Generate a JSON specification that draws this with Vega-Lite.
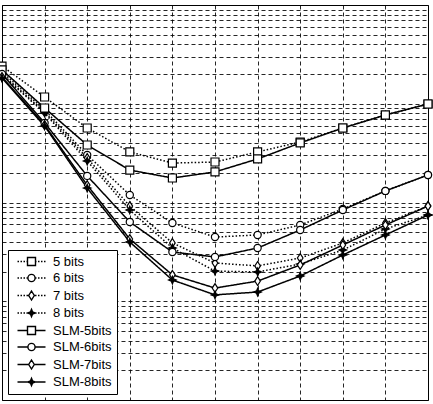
{
  "$schema": "https://vega.github.io/schema/vega-lite/v6.json",
  "width": 426,
  "height": 395,
  "autosize": {"type": "none"},
  "padding": {"left": 2, "top": 5, "right": 5, "bottom": 4},
  "background": "white",
  "config": {"view": {"stroke": "black", "strokeWidth": 1}, "font": "Liberation Sans"},
  "resolve": {"scale": {"shape": "independent"}},
  "data": {"values": [
    {"s": "5 bits", "x": 0, "v": 0.241}, {"s": "5 bits", "x": 1, "v": 0.117}, {"s": "5 bits", "x": 2, "v": 0.0568}, {"s": "5 bits", "x": 3, "v": 0.0325}, {"s": "5 bits", "x": 4, "v": 0.0251}, {"s": "5 bits", "x": 5, "v": 0.0257}, {"s": "5 bits", "x": 6, "v": 0.0325}, {"s": "5 bits", "x": 7, "v": 0.041}, {"s": "5 bits", "x": 8, "v": 0.0568}, {"s": "5 bits", "x": 9, "v": 0.0769}, {"s": "5 bits", "x": 10, "v": 0.0994},
    {"s": "6 bits", "x": 0, "v": 0.21}, {"s": "6 bits", "x": 1, "v": 0.0865}, {"s": "6 bits", "x": 2, "v": 0.0303}, {"s": "6 bits", "x": 3, "v": 0.0119}, {"s": "6 bits", "x": 4, "v": 0.0062}, {"s": "6 bits", "x": 5, "v": 0.00447}, {"s": "6 bits", "x": 6, "v": 0.00469}, {"s": "6 bits", "x": 7, "v": 0.00592}, {"s": "6 bits", "x": 8, "v": 0.00859}, {"s": "6 bits", "x": 9, "v": 0.0131}, {"s": "6 bits", "x": 10, "v": 0.019},
    {"s": "7 bits", "x": 0, "v": 0.2}, {"s": "7 bits", "x": 1, "v": 0.0825}, {"s": "7 bits", "x": 2, "v": 0.0282}, {"s": "7 bits", "x": 3, "v": 0.0092}, {"s": "7 bits", "x": 4, "v": 0.0039}, {"s": "7 bits", "x": 5, "v": 0.00244}, {"s": "7 bits", "x": 6, "v": 0.00228}, {"s": "7 bits", "x": 7, "v": 0.00274}, {"s": "7 bits", "x": 8, "v": 0.00389}, {"s": "7 bits", "x": 9, "v": 0.0062}, {"s": "7 bits", "x": 10, "v": 0.0092},
    {"s": "8 bits", "x": 0, "v": 0.1955}, {"s": "8 bits", "x": 1, "v": 0.0806}, {"s": "8 bits", "x": 2, "v": 0.0263}, {"s": "8 bits", "x": 3, "v": 0.0084}, {"s": "8 bits", "x": 4, "v": 0.00346}, {"s": "8 bits", "x": 5, "v": 0.00202}, {"s": "8 bits", "x": 6, "v": 0.00198}, {"s": "8 bits", "x": 7, "v": 0.00238}, {"s": "8 bits", "x": 8, "v": 0.0033}, {"s": "8 bits", "x": 9, "v": 0.00539}, {"s": "8 bits", "x": 10, "v": 0.00747},
    {"s": "SLM-5bits", "x": 0, "v": 0.22}, {"s": "SLM-5bits", "x": 1, "v": 0.0906}, {"s": "SLM-5bits", "x": 2, "v": 0.0382}, {"s": "SLM-5bits", "x": 3, "v": 0.0213}, {"s": "SLM-5bits", "x": 4, "v": 0.0177}, {"s": "SLM-5bits", "x": 5, "v": 0.0204}, {"s": "SLM-5bits", "x": 6, "v": 0.0276}, {"s": "SLM-5bits", "x": 7, "v": 0.0401}, {"s": "SLM-5bits", "x": 8, "v": 0.0568}, {"s": "SLM-5bits", "x": 9, "v": 0.0769}, {"s": "SLM-5bits", "x": 10, "v": 0.0994},
    {"s": "SLM-6bits", "x": 0, "v": 0.2}, {"s": "SLM-6bits", "x": 1, "v": 0.0639}, {"s": "SLM-6bits", "x": 2, "v": 0.0186}, {"s": "SLM-6bits", "x": 3, "v": 0.00635}, {"s": "SLM-6bits", "x": 4, "v": 0.00315}, {"s": "SLM-6bits", "x": 5, "v": 0.00281}, {"s": "SLM-6bits", "x": 6, "v": 0.00346}, {"s": "SLM-6bits", "x": 7, "v": 0.00527}, {"s": "SLM-6bits", "x": 8, "v": 0.0084}, {"s": "SLM-6bits", "x": 9, "v": 0.0131}, {"s": "SLM-6bits", "x": 10, "v": 0.019},
    {"s": "SLM-7bits", "x": 0, "v": 0.187}, {"s": "SLM-7bits", "x": 1, "v": 0.0609}, {"s": "SLM-7bits", "x": 2, "v": 0.015}, {"s": "SLM-7bits", "x": 3, "v": 0.00427}, {"s": "SLM-7bits", "x": 4, "v": 0.00185}, {"s": "SLM-7bits", "x": 5, "v": 0.00136}, {"s": "SLM-7bits", "x": 6, "v": 0.0016}, {"s": "SLM-7bits", "x": 7, "v": 0.00233}, {"s": "SLM-7bits", "x": 8, "v": 0.00371}, {"s": "SLM-7bits", "x": 9, "v": 0.00592}, {"s": "SLM-7bits", "x": 10, "v": 0.0092},
    {"s": "SLM-8bits", "x": 0, "v": 0.182}, {"s": "SLM-8bits", "x": 1, "v": 0.0595}, {"s": "SLM-8bits", "x": 2, "v": 0.014}, {"s": "SLM-8bits", "x": 3, "v": 0.00398}, {"s": "SLM-8bits", "x": 4, "v": 0.00164}, {"s": "SLM-8bits", "x": 5, "v": 0.00116}, {"s": "SLM-8bits", "x": 6, "v": 0.00124}, {"s": "SLM-8bits", "x": 7, "v": 0.0018}, {"s": "SLM-8bits", "x": 8, "v": 0.00294}, {"s": "SLM-8bits", "x": 9, "v": 0.00469}, {"s": "SLM-8bits", "x": 10, "v": 0.00747}
  ]},
  "encoding": {
    "x": {"field": "x", "type": "quantitative", "scale": {"domain": [0, 10], "nice": false, "zero": false},
      "axis": {"values": [0, 1, 2, 3, 4, 5, 6, 7, 8, 9, 10], "labels": false, "ticks": false, "domain": false, "title": null, "grid": true, "gridDash": [4, 3], "gridColor": "black", "gridOpacity": 0.85, "gridWidth": 1}},
    "y": {"field": "v", "type": "quantitative", "scale": {"type": "log", "domain": [0.0001, 1], "nice": false},
      "axis": {"values": [0.0001, 0.0002, 0.0003, 0.0004, 0.0005, 0.0006, 0.0007, 0.0008, 0.0009, 0.001, 0.002, 0.003, 0.004, 0.005, 0.006, 0.007, 0.008, 0.009, 0.01, 0.02, 0.03, 0.04, 0.05, 0.06, 0.07, 0.08, 0.09, 0.1, 0.2, 0.3, 0.4, 0.5, 0.6, 0.7, 0.8, 0.9, 1],
        "labels": false, "ticks": false, "domain": false, "title": null, "grid": true, "gridDash": [4, 3], "gridColor": "black", "gridOpacity": 0.85, "gridWidth": 1}}
  },
  "layer": [
    {
      "mark": {"type": "line", "strokeWidth": 1.5, "color": "black"},
      "encoding": {
        "detail": {"field": "s", "type": "nominal"},
        "strokeDash": {"field": "s", "type": "nominal",
          "scale": {"domain": ["5 bits", "6 bits", "7 bits", "8 bits", "SLM-5bits", "SLM-6bits", "SLM-7bits", "SLM-8bits"],
            "range": [[1.5, 2], [1.5, 2], [1.5, 2], [1.5, 2], [1, 0], [1, 0], [1, 0], [1, 0]]},
          "legend": null}
      }
    },
    {
      "mark": {"type": "point", "filled": true, "stroke": "black", "strokeWidth": 1.2, "size": 64, "opacity": 1},
      "encoding": {
        "shape": {"field": "s", "type": "nominal",
          "scale": {"domain": ["5 bits", "6 bits", "7 bits", "8 bits", "SLM-5bits", "SLM-6bits", "SLM-7bits", "SLM-8bits"],
            "range": ["M-1,-1H1V1H-1Z", "M-0.9,0A0.9,0.9,0,1,1,0.9,0A0.9,0.9,0,1,1,-0.9,0Z", "M0,-1.1L0.7,0L0,1.1L-0.7,0Z", "M0,-0.95L0.28,-0.28L0.95,0L0.28,0.28L0,0.95L-0.28,0.28L-0.95,0L-0.28,-0.28Z",
              "M-1,-1H1V1H-1Z", "M-0.9,0A0.9,0.9,0,1,1,0.9,0A0.9,0.9,0,1,1,-0.9,0Z", "M0,-1.1L0.7,0L0,1.1L-0.7,0Z", "M0,-0.95L0.28,-0.28L0.95,0L0.28,0.28L0,0.95L-0.28,0.28L-0.95,0L-0.28,-0.28Z"]},
          "legend": null},
        "fill": {"field": "s", "type": "nominal",
          "scale": {"range": ["white", "white", "white", "black", "white", "white", "white", "black"]},
          "legend": null}
      }
    },
    {
      "mark": {"type": "point", "filled": false, "stroke": "black", "strokeWidth": 1.4, "size": 100, "opacity": 0},
      "encoding": {
        "shape": {"field": "s", "type": "nominal",
          "scale": {"domain": ["5 bits", "6 bits", "7 bits", "8 bits", "SLM-5bits", "SLM-6bits", "SLM-7bits", "SLM-8bits"],
            "range": [
              "M-2.8,0H-2.5M-2.2,0H-1.9M-1.6,0H-1.3M-1,0H-0.8M0.8,0H1M1.3,0H1.6M1.9,0H2.2M2.5,0H2.8M-0.8,-0.8H0.8V0.8H-0.8Z",
              "M-2.8,0H-2.5M-2.2,0H-1.9M-1.6,0H-1.3M-1,0H-0.72M0.72,0H1M1.3,0H1.6M1.9,0H2.2M2.5,0H2.8M-0.72,0A0.72,0.72,0,1,1,0.72,0A0.72,0.72,0,1,1,-0.72,0Z",
              "M-2.8,0H-2.5M-2.2,0H-1.9M-1.6,0H-1.3M-1,0H-0.56M0.56,0H1M1.3,0H1.6M1.9,0H2.2M2.5,0H2.8M0,-0.9L0.56,0L0,0.9L-0.56,0Z",
              "M-2.8,0H-2.5M-2.2,0H-1.9M-1.6,0H-1.3M-1,0H1M1.3,0H1.6M1.9,0H2.2M2.5,0H2.8M0,-0.75L0.22,-0.22L0.75,0L0.22,0.22L0,0.75L-0.22,0.22L-0.75,0L-0.22,-0.22ZM0,-0.55V0.55",
              "M-2.8,0H-0.8M0.8,0H2.8M-0.8,-0.8H0.8V0.8H-0.8Z",
              "M-2.8,0H-0.72M0.72,0H2.8M-0.72,0A0.72,0.72,0,1,1,0.72,0A0.72,0.72,0,1,1,-0.72,0Z",
              "M-2.8,0H-0.56M0.56,0H2.8M0,-0.9L0.56,0L0,0.9L-0.56,0Z",
              "M-2.8,0H2.8M0,-0.75L0.22,-0.22L0.75,0L0.22,0.22L0,0.75L-0.22,0.22L-0.75,0L-0.22,-0.22ZM0,-0.55V0.55"
            ]},
          "legend": {
            "title": null, "orient": "bottom-left", "offset": 6,
            "fillColor": "white", "strokeColor": "black", "padding": 5,
            "labelFont": "Liberation Sans", "labelFontSize": 13, "labelColor": "black",
            "symbolSize": 100, "symbolOffset": 12, "labelOffset": 15, "rowPadding": 2.5,
            "symbolOpacity": 1, "symbolStrokeColor": "black", "symbolStrokeWidth": 1.4, "symbolFillColor": "transparent"
          }
        }
      }
    }
  ]
}
